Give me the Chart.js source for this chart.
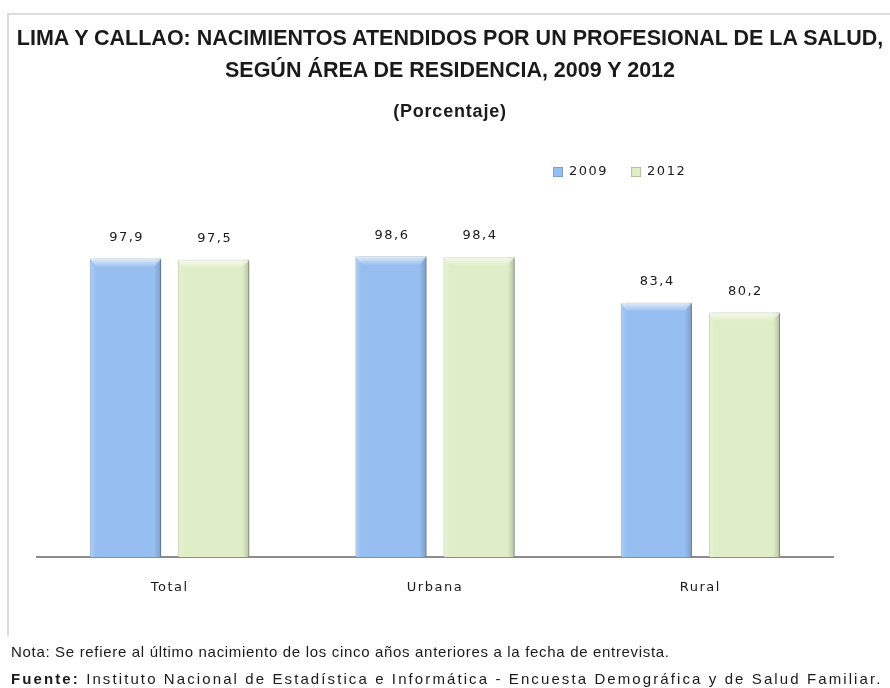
<!DOCTYPE html>
<html lang="es">
<head>
<meta charset="utf-8">
<title>Lima y Callao: nacimientos atendidos</title>
<script src="https://cdn.jsdelivr.net/npm/chart.js@4"></script>
<style>
    html, body { margin: 0; padding: 0; background: #fff; }
    #lienzo { position: relative; width: 890px; height: 688px; overflow: hidden; }
    #marco {
        position: absolute; left: 7px; top: 13px; width: 900px; height: 621px;
        border-left: 2px solid #dcdcdc; border-top: 2px solid #dcdcdc;
    }
    canvas { position: absolute; left: 0; top: 0; }
    .titulo {
        position: absolute; left: 0; width: 900px; text-align: center;
        font-family: "Liberation Sans Narrow", "Liberation Sans", sans-serif;
        font-weight: bold; color: #1a1a1a;
    }
    #titulo { top: 22px; font-size: 21.5px; line-height: 32px; }
    #subtitulo { top: 99px; font-size: 18px; line-height: 24px; letter-spacing: 0.8px; }
    .nota {
        position: absolute; left: 11px; white-space: nowrap;
        font-family: "Liberation Sans", sans-serif;
        font-size: 15px; line-height: 20px; color: #1a1a1a;
    }
</style>
</head>
<body>
<div id="lienzo">
    <div id="marco"></div>
    <canvas id="grafico" width="890" height="688"></canvas>
    <div class="titulo" id="titulo">LIMA Y CALLAO: NACIMIENTOS ATENDIDOS POR UN PROFESIONAL DE LA SALUD,<br>SEGÚN ÁREA DE RESIDENCIA, 2009 Y 2012</div>
    <div class="titulo" id="subtitulo">(Porcentaje)</div>
    <div class="nota" style="top:642px; letter-spacing:0.68px">Nota: Se refiere al último nacimiento de los cinco años anteriores a la fecha de entrevista.</div>
    <div class="nota" style="top:669px; letter-spacing:2.1px"><b>Fuente:</b> Instituto Nacional de Estadística e Informática - Encuesta Demográfica y de Salud Familiar.</div>
</div>

<script>
// ---------------------------------------------------------------
// Datos
// ---------------------------------------------------------------
const categorias = ["Total", "Urbana", "Rural"];
const series = ["2009", "2012"];
const valores2009 = [97.9, 98.6, 83.4];
const valores2012 = [97.5, 98.4, 80.2];

const colores = ["#97bef0", "#e0eec8"];
const bordes = ["#7b9fd0", "#b5c49a"];

const fmt = v => v.toFixed(1).replace(".", ",");

// ---------------------------------------------------------------
// Plugin: espaciado de letras (estilo Excel)
// ---------------------------------------------------------------
const espaciado = {
    id: "espaciado",
    beforeDraw(chart) { chart.ctx.letterSpacing = "1.5px"; }
};

// ---------------------------------------------------------------
// Plugin: sombra y relieve de las barras
// ---------------------------------------------------------------
const relieve = {
    id: "relieve",
    beforeDatasetDraw(chart) {
        const ctx = chart.ctx;
        ctx.save();
        ctx.shadowColor = "rgba(0,0,0,0.28)";
        ctx.shadowBlur = 4;
        ctx.shadowOffsetX = 2;
        ctx.shadowOffsetY = 0;
    },
    afterDatasetDraw(chart, args) {
        const ctx = chart.ctx;
        ctx.restore();
        chart.getDatasetMeta(args.index).data.forEach(bar => {
            const left = bar.x - bar.width / 2, right = bar.x + bar.width / 2;
            const top = bar.y, h = bar.base - bar.y;
            // borde derecho oscuro
            let g = ctx.createLinearGradient(left, 0, right, 0);
            g.addColorStop(0, "rgba(255,255,255,0.25)");
            g.addColorStop(0.08, "rgba(255,255,255,0)");
            g.addColorStop(0.9, "rgba(0,0,0,0)");
            g.addColorStop(1, "rgba(0,0,0,0.18)");
            ctx.fillStyle = g;
            ctx.fillRect(left, top, bar.width, h);
            // bisel superior
            g = ctx.createLinearGradient(0, top, 0, top + 9);
            g.addColorStop(0, "rgba(255,255,255,0.75)");
            g.addColorStop(1, "rgba(255,255,255,0)");
            ctx.fillStyle = g;
            ctx.beginPath();
            ctx.moveTo(left, top);
            ctx.lineTo(right, top);
            ctx.lineTo(right - 7, top + 9);
            ctx.lineTo(left + 7, top + 9);
            ctx.closePath();
            ctx.fill();
        });
    }
};

// ---------------------------------------------------------------
// Plugin: etiquetas de valores sobre las barras
// ---------------------------------------------------------------
const etiquetas = {
    id: "etiquetas",
    afterDatasetsDraw(chart) {
        const ctx = chart.ctx;
        ctx.save();
        ctx.font = "13px 'DejaVu Sans'";
        ctx.fillStyle = "#1a1a1a";
        ctx.textAlign = "center";
        ctx.textBaseline = "middle";
        chart.data.datasets.forEach((ds, i) => {
            chart.getDatasetMeta(i).data.forEach((bar, j) => {
                ctx.fillText(fmt(ds.data[j]), bar.x + 1, bar.y - 21);
            });
        });
        ctx.restore();
    }
};

// ---------------------------------------------------------------
// Plugin: leyenda
// ---------------------------------------------------------------
const leyenda = {
    id: "leyenda",
    afterDraw(chart) {
        const ctx = chart.ctx;
        const y = 172;
        let x = 553;
        ctx.save();
        ctx.font = "13px 'DejaVu Sans'";
        ctx.textBaseline = "middle";
        ctx.textAlign = "left";
        chart.data.datasets.forEach((ds, i) => {
            ctx.fillStyle = ds.backgroundColor;
            ctx.fillRect(x, y - 5, 10, 10);
            ctx.strokeStyle = ds.borderColor;
            ctx.lineWidth = 1;
            ctx.strokeRect(x + 0.5, y - 4.5, 9, 9);
            ctx.fillStyle = "#1a1a1a";
            ctx.fillText(ds.label, x + 16, y);
            x += 16 + ctx.measureText(ds.label).width + 23;
        });
        ctx.restore();
    }
};

// ---------------------------------------------------------------
// Gráfico
// ---------------------------------------------------------------
Chart.defaults.font.family = "'DejaVu Sans', sans-serif";
Chart.defaults.color = "#1a1a1a";

new Chart(document.getElementById("grafico"), {
    type: "bar",
    data: {
        labels: categorias,
        datasets: [
            { label: series[0], data: valores2009, backgroundColor: colores[0], borderColor: bordes[0], borderWidth: 1 },
            { label: series[1], data: valores2012, backgroundColor: colores[1], borderColor: bordes[1], borderWidth: 1 }
        ]
    },
    options: {
        responsive: false,
        animation: false,
        categoryPercentage: 0.664,
        barPercentage: 0.807,
        layout: { padding: { left: 37, right: 57, top: 252, bottom: 69.4 } },
        plugins: {
            legend: { display: false },
            tooltip: { enabled: false }
        },
        scales: {
            x: {
                grid: { display: false, drawTicks: false },
                border: { display: true, color: "#8c8c8c", width: 2 },
                ticks: { padding: 23, font: { size: 13 }, color: "#1a1a1a" }
            },
            y: {
                display: false,
                min: 0,
                max: 100
            }
        }
    },
    plugins: [espaciado, relieve, etiquetas, leyenda]
});
</script>
</body>
</html>
